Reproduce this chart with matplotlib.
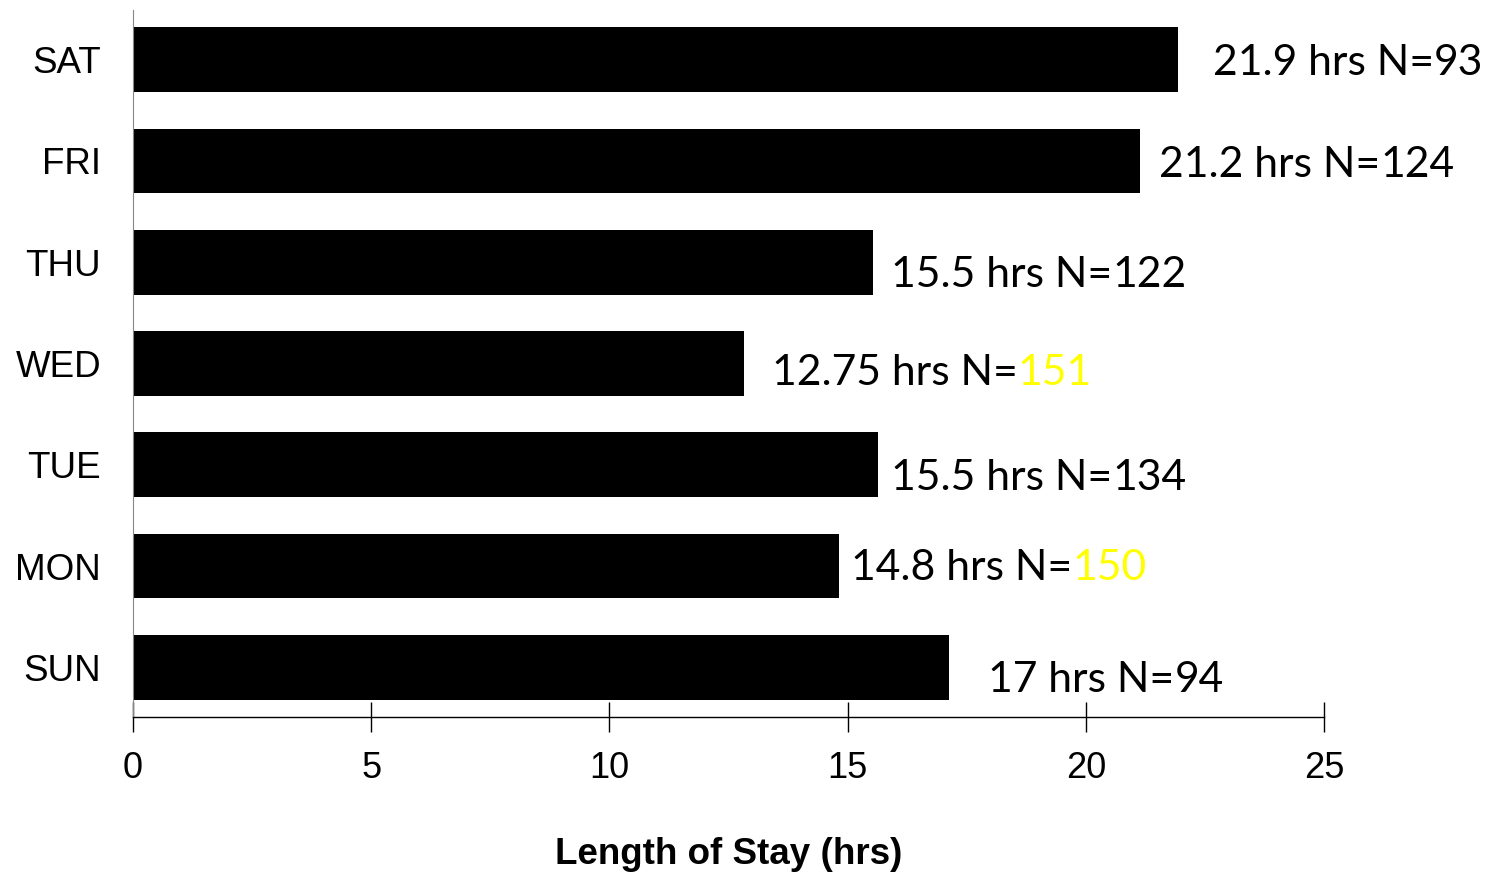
import matplotlib.pyplot as plt

days = ['SUN', 'MON', 'TUE', 'WED', 'THU', 'FRI', 'SAT']
stay_hrs = [17.13, 14.82, 15.64, 12.83, 15.53, 21.14, 21.93]
hrs_text = ['17', '14.8', '15.5', '12.75', '15.5', '21.2', '21.9']
n_counts = ['94', '150', '134', '151', '122', '124', '93']
n_flagged = [False, True, False, True, False, False, False]

# where the hand-placed labels sit (data coords: x of left edge, y of baseline)
label_x = [17.95, 15.07, 15.91, 13.41, 15.91, 21.54, 22.67]
label_y = [-0.243, 0.862, 1.751, 2.787, 3.755, 4.841, 5.848]

fig = plt.figure(figsize=(14.9, 8.72), dpi=100)
ax = fig.add_axes([0.0893, 0.1778, 0.7993, 0.8107])

ax.barh(range(len(days)), stay_hrs, height=0.64, color='black')

ax.set_xlim(0, 25)
ax.set_ylim(-0.49, 6.49)
ax.set_xticks([0, 5, 10, 15, 20, 25])
ax.set_yticks(range(len(days)))
ax.set_yticklabels(days, family='Liberation Sans', fontsize=26.5)
for lbl in ax.get_xticklabels():
    lbl.set_family('Liberation Sans')
    lbl.set_fontsize(26)

ax.tick_params(axis='x', direction='inout', length=21, width=1, pad=14)
ax.tick_params(axis='y', length=0, pad=23)

ax.spines['top'].set_visible(False)
ax.spines['right'].set_visible(False)
ax.spines['left'].set_color('#868686')
ax.spines['bottom'].set_linewidth(1)

ax.set_xlabel('Length of Stay (hrs)', family='Liberation Sans', fontsize=26.5,
              fontweight='bold', labelpad=37)

for i in range(len(days)):
    first = ax.text(label_x[i], label_y[i], hrs_text[i] + ' hrs N=',
                    family='Lato', fontsize=30.7, va='baseline', ha='left')
    ax.annotate(n_counts[i], xy=(1, 0), xycoords=first, va='bottom', ha='left',
                family='Lato', fontsize=30.7,
                color='#ffff00' if n_flagged[i] else 'black')

fig.savefig('out.png', dpi=100)
